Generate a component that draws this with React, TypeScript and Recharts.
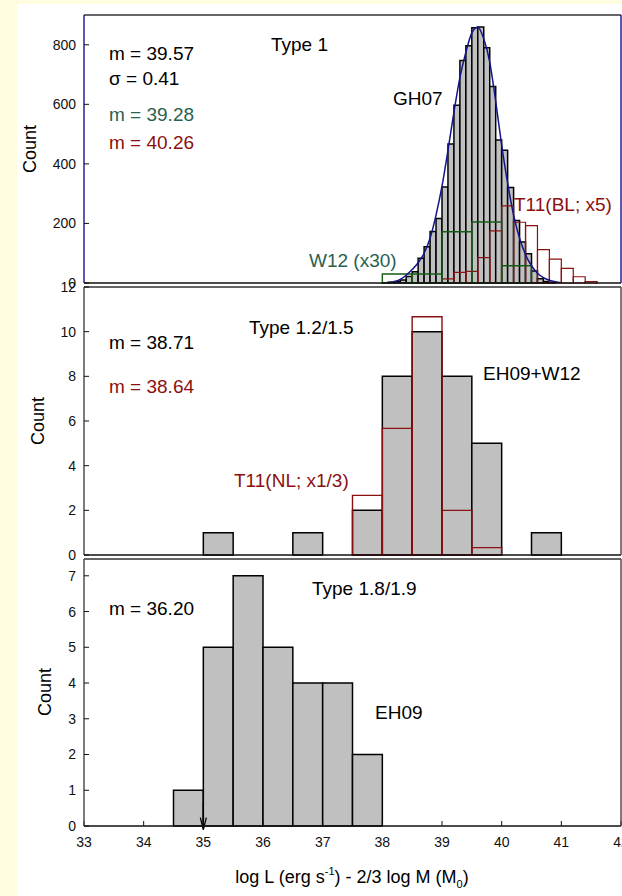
import React from "react";
import {
  ComposedChart,
  XAxis,
  YAxis,
  Line,
  ReferenceArea,
  ReferenceLine,
} from "recharts";

const FONT = '"Liberation Sans", Arial, sans-serif';
const W = 622;
const H = 896;

const GRAY = "#c0c0c0";
const RED = "#8b1010";
const GREEN = "#145a14";
const GREEN_TXT = "#2a5f50";
const BLUE = "#14148c";

const xTicks = [33, 34, 35, 36, 37, 38, 39, 40, 41, 42];

// Type 1 : GH07, 0.1 bins
const gh07Left = [
  38.0, 38.1, 38.2, 38.3, 38.4, 38.5, 38.6, 38.7, 38.8, 38.9, 39.0, 39.1, 39.2,
  39.3, 39.4, 39.5, 39.6, 39.7, 39.8, 39.9, 40.0, 40.1, 40.2, 40.3, 40.4, 40.5,
  40.6, 40.7, 40.8,
];
const gh07Count = [
  1, 3, 5, 10, 22, 38, 83, 122, 173, 217, 322, 467, 597, 747, 797, 857, 860,
  790, 660, 480, 446, 321, 210, 138, 98, 40, 14, 5, 2,
];
// W12 (x30), 0.5 bins
const w12Left = [38.0, 38.5, 39.0, 39.5, 40.0];
const w12Count = [30, 30, 172, 205, 58];
// T11 (BL; x5), 0.2 bins
const t11blLeft = [
  39.0, 39.2, 39.4, 39.6, 39.8, 40.0, 40.2, 40.4, 40.6, 40.8, 41.0, 41.2, 41.4,
];
const t11blCount = [14, 36, 39, 85, 175, 259, 204, 193, 112, 80, 49, 21, 5];
// gaussian fit
const fitX = [
  38.1, 38.2, 38.3, 38.4, 38.5, 38.6, 38.7, 38.8, 38.9, 39.0, 39.1, 39.2, 39.3,
  39.4, 39.5, 39.6, 39.7, 39.8, 39.9, 40.0, 40.1, 40.2, 40.3, 40.4, 40.5, 40.6,
  40.7, 40.8, 40.9, 41.0,
];
const fitY = [
  0, 4, 12, 26, 45, 68, 100, 150, 228, 325, 445, 574, 690, 775, 840, 860, 820,
  742, 610, 463, 335, 228, 150, 95, 58, 33, 18, 9, 4, 1,
];

// Type 1.2/1.5 : EH09+W12 and T11 (NL; x1/3), 0.5 bins
const eh09w12Left = [35.0, 36.5, 37.5, 38.0, 38.5, 39.0, 39.5, 40.5];
const eh09w12Count = [1, 1, 2, 8, 10, 8, 5, 1];
const t11nlLeft = [37.5, 38.0, 38.5, 39.0, 39.5];
const t11nlCount = [2.67, 5.67, 10.67, 2, 0.33];

// Type 1.8/1.9 : EH09, 0.5 bins
const eh09Left = [34.5, 35.0, 35.5, 36.0, 36.5, 37.0, 37.5];
const eh09Count = [1, 5, 7, 5, 4, 4, 2];
const arrowAt = 35;
const arrowFrom = 0.68;
const arrowTo = -0.1;

const rects = (
  key: string,
  left: number[],
  count: number[],
  w: number,
  fill: string,
  stroke: string,
  sw: number
) =>
  left.map((x, i) => (
    <ReferenceArea
      key={key + i}
      xAxisId="b"
      yAxisId="l"
      x1={x}
      x2={x + w}
      y1={0}
      y2={count[i]}
      fill={fill}
      fillOpacity={fill === "none" ? 0 : 1}
      stroke={stroke}
      strokeWidth={sw}
      ifOverflow="visible"
    />
  ));

const tickFont = { fontSize: 14, fill: "#111", fontFamily: FONT };

const frame = (
  yMax: number,
  yTicks: number[],
  side: string,
  showX: boolean
) => [
  <XAxis
    key="xb"
    xAxisId="b"
    dataKey="x"
    type="number"
    domain={[33, 42]}
    ticks={xTicks}
    interval={0}
    allowDataOverflow
    height={showX ? 40 : 1}
    tickSize={-5}
    tickMargin={showX ? 16 : 0}
    axisLine={{ stroke: "#111", strokeWidth: 1.4 }}
    tickLine={{ stroke: "#111" }}
    tick={showX ? tickFont : false}
  />,
  <XAxis
    key="xt"
    xAxisId="t"
    orientation="top"
    dataKey="x"
    type="number"
    domain={[33, 42]}
    ticks={xTicks}
    interval={0}
    allowDataOverflow
    height={1}
    tickSize={-5}
    axisLine={{ stroke: "#333", strokeWidth: 1.4 }}
    tickLine={{ stroke: "#111" }}
    tick={false}
  />,
  <YAxis
    key="yl"
    yAxisId="l"
    type="number"
    domain={[0, yMax]}
    ticks={yTicks}
    interval={0}
    allowDataOverflow
    width={84}
    tickSize={-5}
    tickMargin={13}
    axisLine={{ stroke: side, strokeWidth: 1.4 }}
    tickLine={{ stroke: "#111" }}
    tick={tickFont}
  />,
  <YAxis
    key="yr"
    yAxisId="r"
    orientation="right"
    type="number"
    domain={[0, yMax]}
    ticks={yTicks}
    interval={0}
    allowDataOverflow
    width={1}
    tickSize={-5}
    axisLine={{ stroke: side, strokeWidth: 1.4 }}
    tickLine={{ stroke: "#111" }}
    tick={false}
  />,
];

const Arrow = (p: any) => {
  const { x1, y1, x2, y2 } = p;
  return (
    <g>
      <line x1={x1} y1={y1} x2={x2} y2={y2} stroke="#000" strokeWidth={1.3} />
      <path
        d={`M${x2 - 3},${y2 - 12} L${x2},${y2} L${x2 + 3},${y2 - 12}`}
        fill="none"
        stroke="#000"
        strokeWidth={1.3}
      />
    </g>
  );
};

const abs: React.CSSProperties = { position: "absolute", left: 0, top: 0 };

const txt = (
  x: number,
  y: number,
  s: string,
  fill = "#000",
  size = 19
) => (
  <text x={x} y={y} fill={fill} fontSize={size} fontFamily={FONT}>
    {s}
  </text>
);

const countLabel = (x: number, y: number) => (
  <text
    transform={`translate(${x},${y}) rotate(-90)`}
    textAnchor="middle"
    fontSize={18}
    fontFamily={FONT}
    fill="#000"
  >
    Count
  </text>
);

export default function App() {
  const fitData = fitX.map((x, i) => ({ x, y: fitY[i] }));
  const p2Data = eh09w12Left.map((x, i) => ({ x, y: eh09w12Count[i] }));
  const p3Data = eh09Left.map((x, i) => ({ x, y: eh09Count[i] }));

  return (
    <div
      style={{
        position: "absolute",
        left: 0,
        top: 0,
        width: W,
        height: H,
        background: "#fffce0",
        overflow: "hidden",
      }}
    >
      <div
        style={{
          position: "absolute",
          left: 17,
          top: 4,
          width: W - 17,
          height: H - 4,
          background: "#fff",
        }}
      />

      {/* Type 1 */}
      <div style={abs}>
        <ComposedChart
          width={W}
          height={H}
          data={fitData}
          margin={{ top: 14, right: 0, left: 0, bottom: 612 }}
        >
          {frame(900, [0, 200, 400, 600, 800], BLUE, false)}
          {rects("gh", gh07Left, gh07Count, 0.1, GRAY, "#000", 1.5)}
          {rects("bl", t11blLeft, t11blCount, 0.2, "none", RED, 1.2)}
          {rects("w", w12Left, w12Count, 0.5, "none", GREEN, 1.4)}
          <Line
            xAxisId="b"
            yAxisId="l"
            dataKey="y"
            type="monotone"
            dot={false}
            stroke={BLUE}
            strokeWidth={1.5}
            isAnimationActive={false}
          />
        </ComposedChart>
      </div>

      {/* Type 1.2/1.5 */}
      <div style={abs}>
        <ComposedChart
          width={W}
          height={H}
          data={p2Data}
          margin={{ top: 286, right: 0, left: 0, bottom: 340 }}
        >
          {frame(12, [0, 2, 4, 6, 8, 10, 12], "#444", false)}
          {rects("eh", eh09w12Left, eh09w12Count, 0.5, GRAY, "#000", 1.5)}
          {rects("nl", t11nlLeft, t11nlCount, 0.5, "none", RED, 1.4)}
        </ComposedChart>
      </div>

      {/* Type 1.8/1.9 */}
      <div style={abs}>
        <ComposedChart
          width={W}
          height={H}
          data={p3Data}
          margin={{ top: 558, right: 0, left: 0, bottom: 30 }}
        >
          {frame(7.47, [0, 1, 2, 3, 4, 5, 6, 7], "#444", true)}
          {rects("e", eh09Left, eh09Count, 0.5, GRAY, "#000", 1.5)}
          <ReferenceLine
            xAxisId="b"
            yAxisId="l"
            segment={[
              { x: arrowAt, y: arrowFrom },
              { x: arrowAt, y: arrowTo },
            ]}
            ifOverflow="visible"
            shape={Arrow}
          />
        </ComposedChart>
      </div>

      <svg width={W} height={H} style={{ ...abs, pointerEvents: "none" }}>
        {txt(109, 60, "m = 39.57")}
        {txt(109, 85, "σ = 0.41")}
        {txt(109, 121, "m = 39.28", GREEN_TXT)}
        {txt(109, 149, "m = 40.26", RED)}
        {txt(271, 51, "Type 1")}
        {txt(393, 105, "GH07")}
        {txt(514, 211, "T11(BL; x5)", RED)}
        {txt(309, 267, "W12 (x30)", GREEN_TXT)}

        {txt(249, 334, "Type 1.2/1.5")}
        {txt(109, 349, "m = 38.71")}
        {txt(109, 393, "m = 38.64", RED)}
        {txt(483, 380, "EH09+W12")}
        {txt(234, 487, "T11(NL; x1/3)", RED)}

        {txt(312, 595, "Type 1.8/1.9")}
        {txt(109, 615, "m = 36.20")}
        {txt(375, 719, "EH09")}

        {countLabel(36, 149)}
        {countLabel(44, 421)}
        {countLabel(51, 692)}

        <text
          x={352}
          y={883}
          textAnchor="middle"
          fontSize={18}
          fontFamily={FONT}
          fill="#000"
        >
          log L (erg s
          <tspan dy={-8} fontSize={11}>
            -1
          </tspan>
          <tspan dy={8}>) - 2/3 log M (M</tspan>
          <tspan dy={5} fontSize={11}>
            0
          </tspan>
          <tspan dy={-5}>)</tspan>
        </text>
      </svg>
    </div>
  );
}
